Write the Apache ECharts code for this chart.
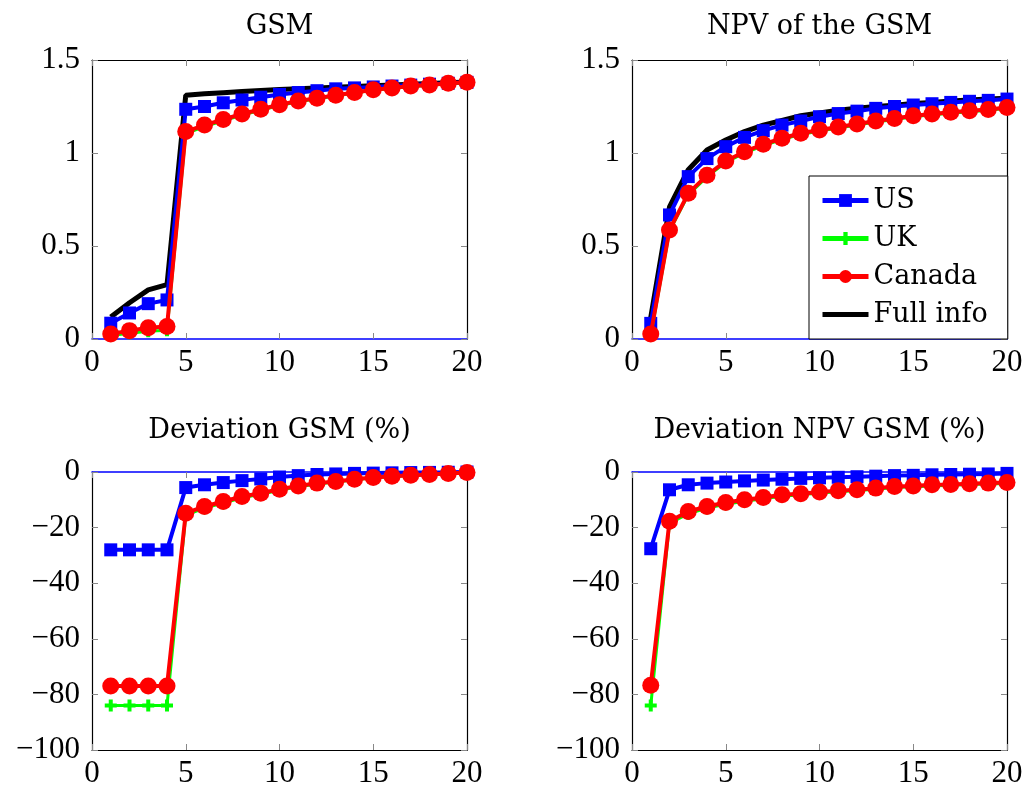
<!DOCTYPE html>
<html>
<head>
<meta charset="utf-8">
<script src="https://cdn.jsdelivr.net/npm/echarts@6/dist/echarts.min.js"></script>
<style>
html,body{margin:0;padding:0;background:#fff;}
#main{width:1026px;height:789px;}
</style>
</head>
<body>
<div id="main"></div>
<script>
const xs = [1,2,3,4,5,6,7,8,9,10,11,12,13,14,15,16,17,18,19,20];
const titles = ['GSM','NPV of the GSM','Deviation GSM (%)','Deviation NPV GSM (%)'];
const xTicks = [0,5,10,15,20];
const yTicksTop = [0,0.5,1,1.5];
const yTicksBottom = [-100,-80,-60,-40,-20,0];

// GSM
const usGSM   = [0.085,0.14,0.19,0.21,1.235,1.25,1.27,1.285,1.30,1.315,1.325,1.335,1.345,1.35,1.355,1.36,1.365,1.37,1.375,1.38];
const ukGSM   = [0.019,0.031,0.042,0.047,1.105,1.142,1.173,1.204,1.23,1.255,1.276,1.292,1.307,1.322,1.337,1.347,1.357,1.363,1.373,1.378];
const caGSM   = [0.027,0.045,0.061,0.067,1.115,1.15,1.18,1.21,1.235,1.26,1.28,1.295,1.31,1.325,1.34,1.35,1.36,1.365,1.375,1.38];
const fullGSM = [0.118,0.195,0.264,0.292,1.31,1.318,1.324,1.33,1.336,1.341,1.345,1.35,1.354,1.358,1.362,1.366,1.37,1.374,1.378,1.382];

// NPV of the GSM
const usNPV   = [0.084,0.667,0.873,0.97,1.034,1.084,1.12,1.15,1.172,1.195,1.212,1.225,1.24,1.25,1.258,1.265,1.272,1.278,1.283,1.29];
const ukNPV   = [0.019,0.58,0.775,0.872,0.95,1.0,1.04,1.072,1.1,1.118,1.134,1.15,1.166,1.18,1.195,1.205,1.214,1.222,1.23,1.24];
const caNPV   = [0.027,0.586,0.783,0.88,0.957,1.007,1.047,1.079,1.106,1.124,1.14,1.156,1.172,1.186,1.2,1.21,1.219,1.227,1.234,1.245];
const fullNPV = [0.116,0.71,0.91,1.016,1.07,1.115,1.15,1.175,1.2,1.215,1.23,1.24,1.25,1.257,1.266,1.272,1.28,1.285,1.29,1.295];

// Deviation GSM (%)
const usDevGSM = [-28,-28,-28,-28,-5.6,-4.6,-3.8,-3.1,-2.5,-1.8,-1.3,-0.9,-0.7,-0.5,-0.4,-0.3,-0.2,-0.15,-0.1,0];
const ukDevGSM = [-84,-84,-84,-84,-15.5,-13,-11.2,-9.3,-8,-6.6,-5.3,-4.3,-3.6,-2.8,-2.1,-1.7,-1.3,-1,-0.6,-0.3];
const caDevGSM = [-77,-77,-77,-77,-14.8,-12.4,-10.6,-8.8,-7.6,-6.2,-5,-4,-3.4,-2.6,-2,-1.5,-1.2,-0.9,-0.5,-0.2];

// Deviation NPV GSM (%)
const usDevNPV = [-27.6,-6.4,-4.6,-4,-3.6,-3.2,-2.9,-2.6,-2.3,-2.1,-1.9,-1.7,-1.5,-1.3,-1.2,-1.0,-0.9,-0.8,-0.7,-0.5];
const ukDevNPV = [-84,-18.5,-15,-13,-11.6,-10.5,-9.6,-8.7,-8.2,-7.6,-7.1,-6.7,-6.2,-5.6,-5.3,-5,-4.8,-4.5,-4.3,-4.1];
const caDevNPV = [-76.7,-17.7,-14.2,-12.4,-11,-10,-9.2,-8.2,-7.8,-7.2,-6.7,-6.4,-5.8,-5.2,-5,-4.6,-4.5,-4.2,-4,-3.8];

const pair = arr => xs.map((x,i)=>[x,arr[i]]);
const fmt = v => (v < 0 ? '\u2212' + Math.abs(v) : String(v));

const TXT = '"DejaVu Serif", serif';
const NUM = '"Liberation Serif", serif';
const plusPath = 'path://M4,0H8V4H12V8H8V12H4V8H0V4H4Z';

const grids = [
  {left:92, top:60, width:375, height:279},
  {left:632, top:60, width:375, height:279},
  {left:92, top:472, width:375, height:280},
  {left:632, top:472, width:375, height:280}
];

const xAxis = [], yAxis = [], series = [], title = [];
grids.forEach((g, gi) => {
  const top = gi < 2;
  const yMin = top ? 0 : -100, yMax = top ? 1.5 : 0, yInt = top ? 0.5 : 20;
  title.push({
    text: titles[gi], left: g.left + g.width/2, top: top ? 13 : 417, textAlign: 'center', padding: 0,
    textStyle: {fontFamily: TXT, fontSize: 27, fontWeight: 'normal', color: '#000'}
  });
  const tick = {show:true, inside:true, length:6, lineStyle:{color:'#888', width:1}};
  const lbl = {show:true, fontFamily:NUM, fontSize:31, color:'#000'};
  xAxis.push({gridIndex:gi, type:'value', min:0, max:20, interval:5, position:'bottom',
    axisLine:{show:true, onZero:false, lineStyle:{color: top ? '#0000ff' : '#000', width: top ? 1.5 : 1.2}},
    axisTick:tick, splitLine:{show:false},
    axisLabel:Object.assign({}, lbl, {margin:8, formatter: v => xTicks.includes(v) ? fmt(v) : ''})
  });
  xAxis.push({gridIndex:gi, type:'value', min:0, max:20, interval:5, position:'top',
    axisLine:{show:true, onZero:false, lineStyle:{color: top ? '#000' : '#0000ff', width: top ? 1.2 : 1.5}},
    axisTick:tick, splitLine:{show:false}, axisLabel:{show:false}
  });
  yAxis.push({gridIndex:gi, type:'value', min:yMin, max:yMax, interval:yInt, position:'left',
    axisLine:{show:true, onZero:false, lineStyle:{color:'#000', width:1.2}},
    axisTick:tick, splitLine:{show:false},
    axisLabel:Object.assign({}, lbl, {margin:12, formatter: fmt})
  });
  yAxis.push({gridIndex:gi, type:'value', min:yMin, max:yMax, interval:yInt, position:'right',
    axisLine:{show:true, onZero:false, lineStyle:{color:'#000', width:1.2}},
    axisTick:tick, splitLine:{show:false}, axisLabel:{show:false}
  });
});

const dataSets = [
  {us:usGSM, uk:ukGSM, ca:caGSM, full:fullGSM},
  {us:usNPV, uk:ukNPV, ca:caNPV, full:fullNPV},
  {us:usDevGSM, uk:ukDevGSM, ca:caDevGSM},
  {us:usDevNPV, uk:ukDevNPV, ca:caDevNPV}
];

dataSets.forEach((d, gi) => {
  const xi = gi*2, yi = gi*2;
  if (d.full) {
    series.push({name:'Full info', type:'line', xAxisIndex:xi, yAxisIndex:yi, data:pair(d.full),
      symbol:'none', z:2, lineStyle:{color:'#000', width:5}, itemStyle:{color:'#000'}, animation:false});
  }
  series.push({name:'US', type:'line', xAxisIndex:xi, yAxisIndex:yi, data:pair(d.us),
    symbol:'rect', symbolSize:13, z:3, lineStyle:{color:'#0000ff', width:4}, itemStyle:{color:'#0000ff'}, animation:false});
  series.push({name:'UK', type:'line', xAxisIndex:xi, yAxisIndex:yi, data:pair(d.uk),
    symbol:plusPath, symbolSize:12, z:4, lineStyle:{color:'#00ff00', width:3}, itemStyle:{color:'#00ff00'}, animation:false});
  series.push({name:'Canada', type:'line', xAxisIndex:xi, yAxisIndex:yi, data:pair(d.ca),
    symbol:'circle', symbolSize:17, z:5, lineStyle:{color:'#ff0000', width:4}, itemStyle:{color:'#ff0000'}, animation:false});
});

const chart = echarts.init(document.getElementById('main'), null, {renderer:'canvas'});
chart.setOption({
  backgroundColor:'#fff',
  animation:false,
  title: title,
  grid: grids,
  xAxis: xAxis,
  yAxis: yAxis,
  legend: {
    data:[
      {name:'US', lineStyle:{width:5}},
      {name:'UK', lineStyle:{width:5}},
      {name:'Canada', lineStyle:{width:5}},
      {name:'Full info', lineStyle:{width:5}, itemStyle:{opacity:0}}
    ],
    orient:'vertical', left:809, top:176,
    padding:[11,20,11,11], itemGap:11, itemWidth:46, itemHeight:16,
    backgroundColor:'#fff', borderColor:'#000', borderWidth:1,
    textStyle:{fontFamily:TXT, fontSize:27, color:'#000'},
    z:10
  },
  series: series
});
</script>
</body>
</html>
